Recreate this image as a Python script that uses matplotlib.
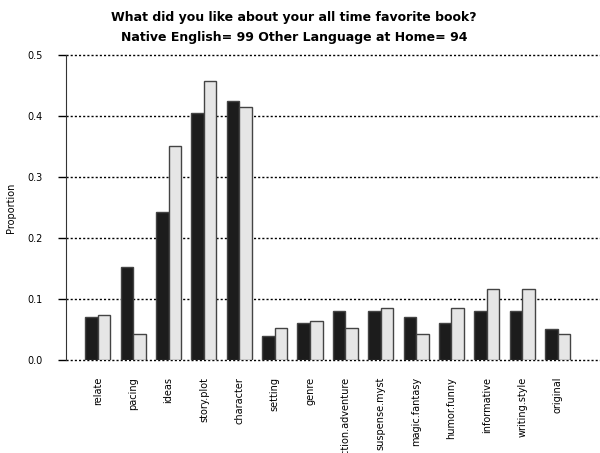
import numpy as np
import matplotlib
matplotlib.use("Agg")
import matplotlib.pyplot as plt

# proportions
categories = ["relate", "pacing", "ideas", "story.plot", "character", "setting", "genre",
              "action.adventure", "suspense.myst", "magic.fantasy", "humor.funny",
              "informative", "writing.style", "original"]
native_english = [0.071, 0.152, 0.242, 0.404, 0.424, 0.040, 0.061,
                  0.081, 0.081, 0.071, 0.061, 0.081, 0.081, 0.051]
other_language = [0.074, 0.043, 0.351, 0.457, 0.415, 0.053, 0.064,
                  0.053, 0.085, 0.043, 0.085, 0.117, 0.117, 0.043]
yticks = [0.0, 0.1, 0.2, 0.3, 0.4, 0.5]

fig = plt.figure(figsize=(6, 4.53), dpi=100)
ax = fig.add_axes([0.11, 0.205, 0.89, 0.674])

x = np.arange(len(categories))
w = 0.355
ax.bar(x - w / 2, native_english, w, color="#1c1c1c", edgecolor="#444444", linewidth=1, zorder=3)
ax.bar(x + w / 2, other_language, w, color="#e6e6e6", edgecolor="#444444", linewidth=1, zorder=3)

ax.set_xlim(-0.9, 14.2)
ax.set_ylim(0, 0.5)
ax.set_yticks(yticks)
ax.set_yticklabels(["%.1f" % t for t in yticks], fontsize=7)
for t in yticks:
    ax.axhline(t, color="black", linestyle=(0, (1.5, 1.5)), linewidth=1, zorder=1, clip_on=False)

ax.set_xticks(x)
ax.set_xticklabels(categories, rotation=90, fontsize=7, va="top")
ax.tick_params(axis="x", length=0, pad=12)
ax.tick_params(axis="y", length=6, width=1, direction="out", pad=11)

for s in ["top", "right", "bottom"]:
    ax.spines[s].set_visible(False)
ax.spines["left"].set_color("#333333")

ax.set_ylabel("Proportion", fontsize=7, labelpad=8)

fig.text(0.49, 0.962, "What did you like about your all time favorite book?",
         ha="center", va="center", fontsize=9, fontweight="bold")
fig.text(0.49, 0.918, "Native English= 99 Other Language at Home= 94",
         ha="center", va="center", fontsize=9, fontweight="bold")

fig.savefig("out.png", dpi=100)
